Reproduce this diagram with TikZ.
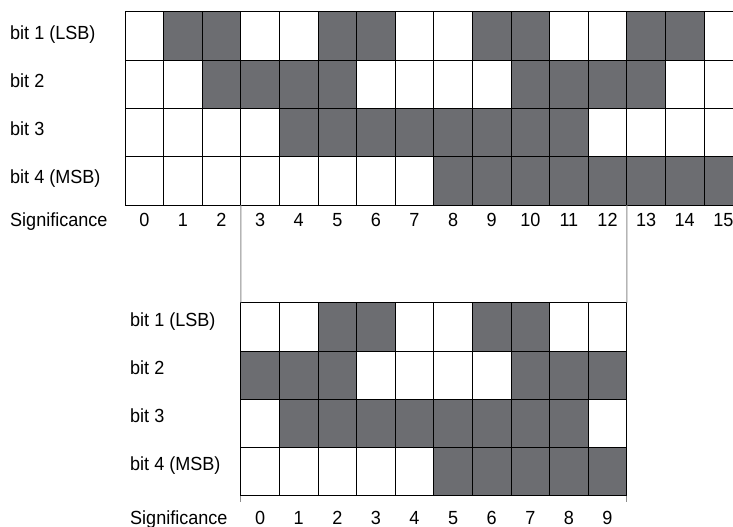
\documentclass[tikz,border=0pt]{standalone}
\usepackage{fontspec}
\setmainfont[FakeStretch=0.95]{Liberation Sans}
\definecolor{darkcell}{RGB}{108,109,113}
\definecolor{linkgray}{RGB}{140,140,140}
\begin{document}
\begin{tikzpicture}[x=1pt,y=-1pt,
  cell/.style={draw=black,line width=1pt,minimum width=38.6pt,minimum height=48.3pt,inner sep=0pt,outer sep=0pt},
  b0/.style={fill=white},
  b1/.style={fill=darkcell},
  lbl/.style={anchor=base west,inner sep=0pt,font=\fontsize{19}{21}\selectfont},
  num/.style={anchor=base,inner sep=0pt,font=\fontsize{19}{21}\selectfont},
  link/.style={draw=linkgray,line width=1pt}]
\fill[white] (0,0) rectangle (733,527);
\useasboundingbox (0,0) rectangle (733,527);
\clip (0,0) rectangle (733,527);
% top grid (Gray code 0..15)
\foreach \r/\bits in {1/{0,1,1,0,0,1,1,0,0,1,1,0,0,1,1,0},
                      2/{0,0,1,1,1,1,0,0,0,0,1,1,1,1,0,0},
                      3/{0,0,0,0,1,1,1,1,1,1,1,1,0,0,0,0},
                      4/{0,0,0,0,0,0,0,0,1,1,1,1,1,1,1,1}}{
  \foreach \b [count=\c from 0] in \bits {
    \node[cell,b\b] (t\r-\c) at ({125+(\c+0.5)*38.6},{12+(\r-0.5)*48.3}) {};
  }
}
% bottom grid (Gray code 3..12)
\foreach \r/\bits in {1/{0,0,1,1,0,0,1,1,0,0},
                      2/{1,1,1,0,0,0,0,1,1,1},
                      3/{0,1,1,1,1,1,1,1,1,0},
                      4/{0,0,0,0,0,1,1,1,1,1}}{
  \foreach \b [count=\c from 0] in \bits {
    \node[cell,b\b] (u\r-\c) at ({240.8+(\c+0.5)*38.6},{302.7+(\r-0.5)*48.3}) {};
  }
}
% connector lines
\coordinate (la) at (t4-3.south west);
\coordinate (lb) at ([yshift=-6pt]u4-0.south west);
\coordinate (ra) at (t4-13.south west);
\coordinate (rb) at ([yshift=-6pt]u4-9.south east);
\draw[link] (la) -- (u1-0.north west);
\draw[link] (u4-0.south west) -- (lb);
\draw[link] (ra) -- (u1-9.north east);
\draw[link] (u4-9.south east) -- (rb);
% top labels
\node[lbl] (tl1) at (10,40) {bit 1 (LSB)};
\node[lbl] (tl2) at (10,88) {bit 2};
\node[lbl] (tl3) at (10,135.5) {bit 3};
\node[lbl] (tl4) at (10,183) {bit 4 (MSB)};
\node[lbl] (tsig) at (10,226.7) {Significance};
\foreach \c in {0,...,15}{
  \node[num] (tn\c) at ({125+(\c+0.5)*38.6},226.7) {\c};
}
% bottom labels
\node[lbl] (bl1) at (130,326.7) {bit 1 (LSB)};
\node[lbl] (bl2) at (130,374.3) {bit 2};
\node[lbl] (bl3) at (130,422.7) {bit 3};
\node[lbl] (bl4) at (130,470.7) {bit 4 (MSB)};
\node[lbl] (bsig) at (130,524.3) {Significance};
\foreach \c in {0,...,9}{
  \node[num] (bn\c) at ({240.8+(\c+0.5)*38.6},524.3) {\c};
}
\end{tikzpicture}
\end{document}
